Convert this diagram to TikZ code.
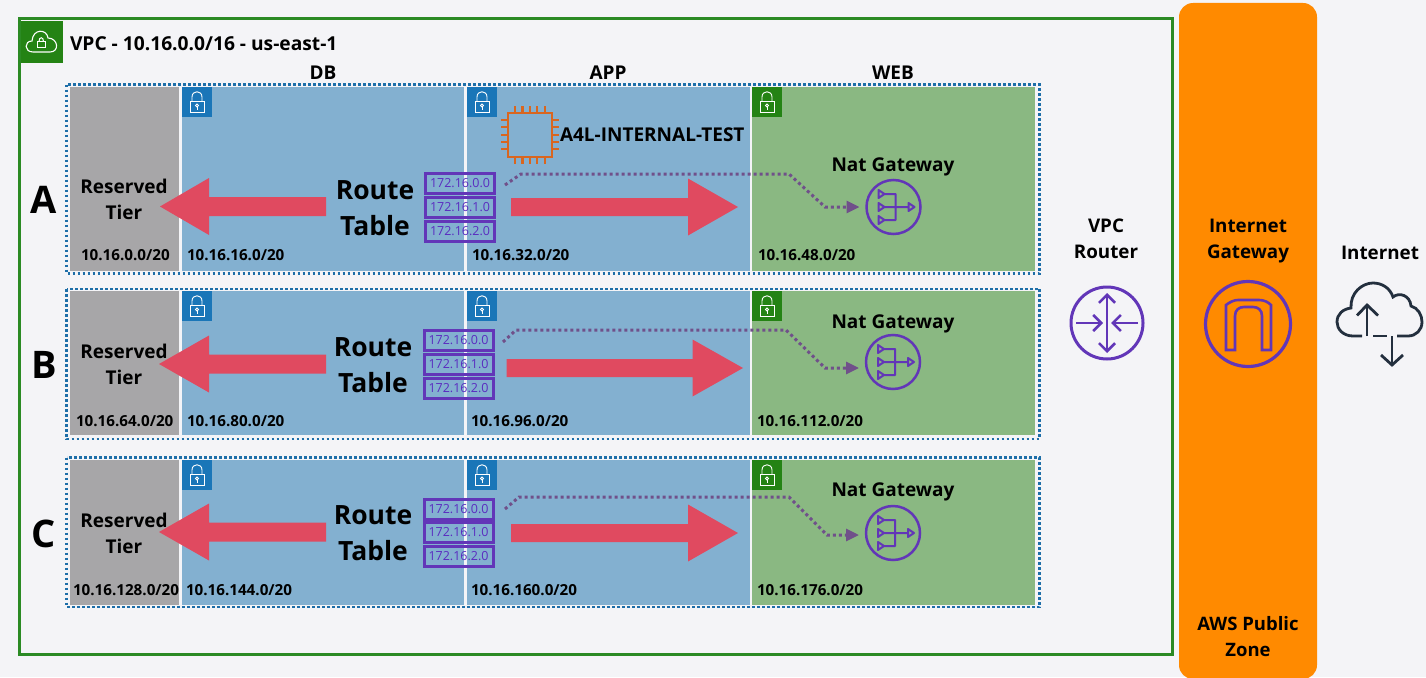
\documentclass[tikz,border=0pt]{standalone}
\usepackage{fontspec}
\setmainfont{Open Sans}
\usetikzlibrary{arrows.meta}
\definecolor{bgc}{HTML}{F4F4F7}
\definecolor{vpcgreen}{HTML}{2B8A24}
\definecolor{tilegreen}{HTML}{248314}
\definecolor{tileblue}{HTML}{1A76B8}
\definecolor{subblue}{HTML}{83B0D0}
\definecolor{subgreen}{HTML}{8AB882}
\definecolor{subgray}{HTML}{A7A6A8}
\definecolor{frameblue}{HTML}{1D6EA8}
\definecolor{redarrow}{HTML}{E04A60}
\definecolor{purp}{HTML}{6236B8}
\definecolor{purptext}{HTML}{5A2CC0}
\definecolor{dotpurp}{HTML}{70508A}
\definecolor{orangez}{HTML}{FF8A00}
\definecolor{chip}{HTML}{D9661F}
\definecolor{cloudc}{HTML}{232F3E}
\newcommand\fsz[2]{\fontsize{#1}{#2}\selectfont\bfseries}
\tikzset{
  x=1pt,y=-1pt,
  txt/.style={inner sep=0pt,outer sep=0pt,align=center,text=black},
  lbl/.style={txt,font=\fsz{15.2}{18}},
  head/.style={txt,font=\fsz{19}{22}},
  rowletter/.style={txt,font=\fsz{38}{40}},
  tier/.style={txt,font=\fsz{19}{26}},
  rtable/.style={txt,font=\fsz{26.5}{36}},
  routebox/.style={draw=purp,line width=3pt,minimum width=69pt,minimum height=20pt,inner sep=0pt,outer sep=0pt,text=purptext,font=\fontsize{12.5}{14}\selectfont},
  natc/.style={draw=purp,circle,line width=2.5pt,minimum size=54pt,inner sep=0pt,outer sep=0pt},
  route/.style={draw=dotpurp,line width=3pt,dash pattern=on 3pt off 3pt,-{Triangle[length=13pt,width=12pt,fill=dotpurp]},shorten >=7pt},
  barb/.style={-{Straight Barb[length=8pt,width=16pt]}},
  pics/locktile/.style={code={
    \fill[#1] (0,0) rectangle (30,30);
    \draw[white,line width=0.9pt] (8,14) rectangle (22,25);
    \draw[white,line width=0.9pt] (10,14) -- (10,10) .. controls (10,3) and (20,3) .. (20,10) -- (20,14);
    \draw[white,line width=0.8pt] (15,18.5) circle[radius=1.5pt];
    \draw[white,line width=0.8pt] (15,20) -- (15,22.5);
  }},
  pics/naticon/.style={code={
    \draw[purp,line width=2pt,line join=round]
      (-15,-17) -- (-9,-13) -- (-15,-9) -- cycle
      (-15,-4) -- (-9,0) -- (-15,4) -- cycle
      (-15,9) -- (-9,13) -- (-15,17) -- cycle
      (15,-4) -- (21,0) -- (15,4) -- cycle
      (-9,-13) -- (2,-13) -- (2,13) -- (-9,13)
      (-9,0) -- (15,0);
  }},
}
\begin{document}
\begin{tikzpicture}
\useasboundingbox (0,0) rectangle (1426,677);
\fill[bgc] (0,0) rectangle (1426,677);
% VPC frame
\draw[vpcgreen,line width=3pt] (19,18.5) rectangle (1172,654.5);
\fill[tilegreen] (21,21) rectangle (63,63);
\draw[white,line width=1.1pt] (33,52) .. controls (24,52) and (24,41) .. (32,41) .. controls (33,28) and (47,29) .. (48,38) .. controls (58,38) and (60,52) .. (50,52) -- cycle;
\draw[white,line width=1pt] (37.5,41.5) rectangle (45,47.5);
\draw[white,line width=1pt] (39,41.5) .. controls (39,36.5) and (43.5,36.5) .. (43.5,41.5);
\node[txt,anchor=west,font=\fsz{19.2}{22}] (title) at (70,44) {VPC - 10.16.0.0/16 - us-east-1};
\node[head] (hdb) at (323,72.5) {DB};
\node[head] (happ) at (608,72.5) {APP};
\node[head] (hweb) at (893,72.5) {WEB};
% Rows
\foreach \R/\ft/\fb/\t/\b in {A/84.5/273.5/87/271,B/289/439/291/435,C/457.5/607/460/605}{
  \fill[subgray] (69.5,\t) rectangle (179,\b);
  \fill[subblue] (182,\t) rectangle (464,\b);
  \fill[subblue] (467,\t) rectangle (750,\b);
  \fill[subgreen] (752,\t) rectangle (1035,\b);
  \draw[frameblue,line width=2.6pt,dash pattern=on 2.6pt off 2.4pt] (66.5,\ft) rectangle (1039.5,\fb);
  \pic at (182,\t) {locktile=tileblue};
  \pic at (467,\t) {locktile=tileblue};
  \pic at (752,\t) {locktile=tilegreen};
}
% Red arrows
\foreach \tipL/\tipR/\baseR/\tailR/\yL/\yR in {160/738/688/511/206.5/207,159/743/692.5/506.5/364/368,159/738/688/511/532/533}{
  \fill[redarrow] (\tipL,\yL) -- (209,\yL-28.5) -- (209,\yL-9.5) -- (326,\yL-9.5) -- (326,\yL+9.5) -- (209,\yL+9.5) -- (209,\yL+28.5) -- cycle;
  \fill[redarrow] (\tipR,\yR) -- (\baseR,\yR-28.5) -- (\baseR,\yR-9) -- (\tailR,\yR-9) -- (\tailR,\yR+9) -- (\baseR,\yR+9) -- (\baseR,\yR+28.5) -- cycle;
}
% Row letters
\node[rowletter] (la) at (44,200) {A};
\node[rowletter] (lb) at (44,365) {B};
\node[rowletter] (lc) at (44,534) {C};
% Tier labels
\node[tier] (ra) at (124,199) {Reserved\\Tier};
\node[tier] (rb) at (124,364) {Reserved\\Tier};
\node[tier] (rc) at (124,533) {Reserved\\Tier};
\node[rtable] (ta) at (375,208) {Route\\Table};
\node[rtable] (tb) at (373,365) {Route\\Table};
\node[rtable] (tc) at (373,533.5) {Route\\Table};
% CIDR labels
\node[lbl,anchor=west] (a1) at (81,255.5) {10.16.0.0/20};
\node[lbl,anchor=west] (a2) at (187,255.5) {10.16.16.0/20};
\node[lbl,anchor=west] (a3) at (472,255.5) {10.16.32.0/20};
\node[lbl,anchor=west] (a4) at (758,255.5) {10.16.48.0/20};
\node[lbl,anchor=west] (b1) at (76,421.5) {10.16.64.0/20};
\node[lbl,anchor=west] (b2) at (187,421.5) {10.16.80.0/20};
\node[lbl,anchor=west] (b3) at (471,421.5) {10.16.96.0/20};
\node[lbl,anchor=west] (b4) at (757,421.5) {10.16.112.0/20};
\node[lbl,anchor=west] (c1) at (73,590.5) {10.16.128.0/20};
\node[lbl,anchor=west] (c2) at (186,590.5) {10.16.144.0/20};
\node[lbl,anchor=west] (c3) at (471,590.5) {10.16.160.0/20};
\node[lbl,anchor=west] (c4) at (757,590.5) {10.16.176.0/20};
% Route boxes
\node[routebox] (ra0) at (460,183) {172.16.0.0};
\node[routebox] (ra1) at (460,207) {172.16.1.0};
\node[routebox] (ra2) at (460,231) {172.16.2.0};
\node[routebox] (rb0) at (458.5,340.5) {172.16.0.0};
\node[routebox] (rb1) at (458.5,364) {172.16.1.0};
\node[routebox] (rb2) at (458.5,388) {172.16.2.0};
\node[routebox] (rc0) at (458.5,509) {172.16.0.0};
\node[routebox] (rc1) at (458.5,532) {172.16.1.0};
\node[routebox] (rc2) at (458.5,556) {172.16.2.0};
% EC2 chip
\draw[chip,line width=2.5pt] (508,113) rectangle (552,157);
\foreach \k in {0,...,4}{
  \draw[chip,line width=2.2pt] (515+7.4*\k,106) -- (515+7.4*\k,113);
  \draw[chip,line width=2.2pt] (515+7.4*\k,157) -- (515+7.4*\k,164);
  \draw[chip,line width=2.2pt] (501,120+7.3*\k) -- (508,120+7.3*\k);
  \draw[chip,line width=2.2pt] (552,120+7.3*\k) -- (559,120+7.3*\k);
}
\node[txt,anchor=west,font=\fsz{19}{22}] (ec2) at (560,135) {A4L-INTERNAL-TEST};
% NAT
\node[head] (nga) at (893,167) {Nat Gateway};
\node[head] (ngb) at (893,324) {Nat Gateway};
\node[head] (ngc) at (893,492) {Nat Gateway};
\node[natc] (nata) at (893.5,207) {};
\node[natc] (natb) at (893,362) {};
\node[natc] (natc) at (893,533) {};
\pic at (nata.center) {naticon};
\pic at (natb.center) {naticon};
\pic at (natc.center) {naticon};
% Dotted routes
\coordinate (sa) at (505,185);
\coordinate (sb) at (503,342);
\coordinate (sc) at (505,509);
\draw[route] (sa) -- (521,174) -- (789,174) -- (825,207) -- (nata.west);
\draw[route] (sb) -- (516,330) -- (786,330) -- (825,368) -- ([yshift=-6pt]natb.west);
\draw[route] (sc) -- (519,497) -- (789,497) -- (827,535) -- ([yshift=-2pt]natc.west);
% VPC Router
\node[txt,font=\fsz{18.8}{26}] (vr) at (1106,238.5) {VPC\\Router};
\node[draw=purp,circle,line width=3pt,minimum size=72pt,inner sep=0pt,outer sep=0pt] (rtr) at (1107,323) {};
\draw[purp,line width=2.6pt,{Straight Barb[length=8pt,width=16pt]}-{Straight Barb[length=8pt,width=16pt]}] ([yshift=30pt]rtr.center) -- ([yshift=-30pt]rtr.center);
\draw[purp,line width=2.6pt,barb] ([xshift=-31pt]rtr.center) -- ([xshift=-4pt]rtr.center);
\draw[purp,line width=2.6pt,barb] ([xshift=31pt]rtr.center) -- ([xshift=4pt]rtr.center);
% Public zone
\fill[orangez,rounded corners=14pt] (1179,3) rectangle (1317,679);
\node[txt,font=\fsz{18.8}{26}] (ig) at (1248,241) {Internet\\Gateway};
\node[draw=purp,circle,line width=3.2pt,minimum size=85pt,inner sep=0pt,outer sep=0pt] (igc) at (1248,324) {};
\draw[purp,line width=2.6pt,line join=miter] (1226,350) -- (1226,305) .. controls (1230,302) and (1234,300) .. (1238,300) -- (1259,300) .. controls (1264,300) and (1268,302) .. (1271,305) -- (1271,350) -- (1262,350) -- (1262,316) .. controls (1262,310) and (1258,307) .. (1253,307) -- (1244,307) .. controls (1239,307) and (1235,310) .. (1235,316) -- (1235,350) -- cycle;
\node[txt,font=\fsz{18.5}{26}] (apz) at (1248,637) {AWS Public\\Zone};
% Internet
\node[txt,font=\fsz{18.8}{23}] (inet) at (1380,253) {Internet};
\draw[cloudc,line width=2.8pt] (1362,336) -- (1353,336) .. controls (1343,336) and (1337,329) .. (1337,322) .. controls (1337,314) and (1343,309) .. (1351,308) .. controls (1350,293) and (1362,283) .. (1373,283) .. controls (1382,283) and (1390,288) .. (1393,297) .. controls (1399,292) and (1410,295) .. (1411,306) .. controls (1418,308) and (1422,315) .. (1422,322) .. controls (1422,330) and (1416,336) .. (1408,336) -- (1397,336);
\draw[cloudc,line width=2.8pt] (1373,336) -- (1387,336);
\draw[cloudc,line width=2.8pt] (1367,336) -- (1367,305);
\draw[cloudc,line width=2.8pt] (1357,315.5) -- (1367,305) -- (1378,315.5);
\draw[cloudc,line width=2.8pt] (1392,336) -- (1392,365);
\draw[cloudc,line width=2.8pt] (1381,355) -- (1392,365) -- (1403,355);
\end{tikzpicture}
\end{document}
